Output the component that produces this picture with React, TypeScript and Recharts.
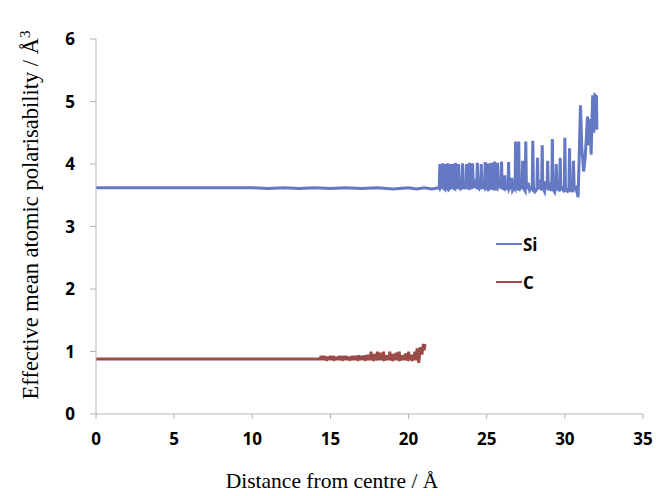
import { LineChart, Line, XAxis, YAxis } from "recharts";

// Si: [distance from centre (Å), effective polarisability (Å^3)]
const siPoints: [number, number][] = [
  [0, 3.62], [2, 3.62], [4, 3.62], [6, 3.62], [8, 3.62], [10, 3.62], [11, 3.61], [12, 3.62], [13, 3.61],
  [14, 3.62], [15, 3.61], [16, 3.62], [17, 3.61], [18, 3.62], [19, 3.6], [20, 3.62], [20.5, 3.6], [21, 3.62],
  [21.5, 3.6], [21.9, 3.62],
  [21.96, 3.61], [22.0, 4.0], [22.04, 3.62], [22.1, 3.64], [22.16, 3.6], [22.2, 4.01], [22.24, 3.62], [22.31, 3.6],
  [22.35, 4.0], [22.39, 3.63], [22.46, 3.61], [22.5, 4.01], [22.54, 3.65], [22.6, 3.6], [22.66, 3.62], [22.7, 4.0],
  [22.74, 3.6], [22.81, 3.64], [22.85, 4.0], [22.89, 3.61], [22.96, 3.6], [23.0, 4.02], [23.04, 3.62], [23.1, 3.7],
  [23.16, 3.6], [23.2, 4.0], [23.24, 3.63], [23.32, 3.6], [23.41, 3.62], [23.45, 4.01], [23.49, 3.6], [23.58, 3.66],
  [23.66, 3.6], [23.7, 4.0], [23.74, 3.62], [23.86, 3.61], [23.9, 4.02], [23.94, 3.6], [24.0, 3.65], [24.06, 3.6],
  [24.1, 4.01], [24.14, 3.62], [24.25, 3.75], [24.36, 3.6], [24.4, 4.02], [24.44, 3.63], [24.52, 3.6], [24.61, 3.64],
  [24.65, 4.0], [24.69, 3.6], [24.78, 3.66], [24.86, 3.61], [24.9, 4.03], [24.94, 3.6], [25.06, 3.62], [25.1, 4.01],
  [25.14, 3.6], [25.26, 3.63], [25.3, 4.02], [25.34, 3.61], [25.46, 3.6], [25.5, 4.04], [25.54, 3.62], [25.66, 3.6],
  [25.7, 4.02], [25.74, 3.63], [25.85, 3.7], [25.91, 3.6], [25.95, 4.04], [25.99, 3.62], [26.1, 3.6], [26.15, 3.82],
  [26.2, 3.6], [26.36, 3.62], [26.4, 4.03], [26.44, 3.6], [26.55, 3.65], [26.6, 3.78], [26.66, 3.58], [26.75, 3.62],
  [26.81, 3.6], [26.85, 4.36], [26.89, 3.62], [27.01, 3.6], [27.05, 4.36], [27.09, 3.58], [27.2, 3.66], [27.26, 3.6],
  [27.3, 4.05], [27.34, 3.62], [27.46, 3.57], [27.5, 4.36], [27.54, 3.6], [27.65, 3.7], [27.75, 3.58], [27.85, 3.62],
  [27.91, 3.6], [27.95, 4.37], [27.99, 3.62], [28.1, 3.56], [28.21, 3.6], [28.25, 4.1], [28.29, 3.6], [28.4, 3.68],
  [28.51, 3.58], [28.55, 4.3], [28.59, 3.62], [28.7, 3.56], [28.78, 3.72], [28.86, 3.6], [28.9, 4.05], [28.94, 3.58],
  [29.05, 3.65], [29.16, 3.57], [29.2, 4.4], [29.24, 3.6], [29.35, 3.55], [29.41, 3.62], [29.45, 4.0], [29.49, 3.58],
  [29.58, 3.7], [29.66, 3.56], [29.7, 4.1], [29.74, 3.6], [29.85, 3.62], [29.96, 3.55], [30.0, 4.42], [30.04, 3.6],
  [30.15, 3.57], [30.26, 3.62], [30.3, 4.25], [30.34, 3.58], [30.45, 3.6], [30.51, 3.55], [30.55, 4.05], [30.6, 3.6],
  [30.7, 3.62], [30.85, 3.47], [31.0, 4.94], [31.08, 4.28], [31.2, 3.88], [31.3, 4.1], [31.45, 4.76], [31.52, 4.3],
  [31.6, 4.72], [31.68, 4.15], [31.78, 5.1], [31.85, 4.5], [31.93, 5.1], [32.02, 5.08], [32.05, 4.55],
];

// C: [distance from centre (Å), effective polarisability (Å^3)]
const cPoints: [number, number][] = [
  [0, 0.88], [4, 0.88], [8, 0.88], [12, 0.88], [14.3, 0.88],
  [14.36, 0.88], [14.4, 0.93], [14.44, 0.88], [14.56, 0.88], [14.6, 0.93], [14.64, 0.88], [14.76, 0.87], [14.8, 0.92],
  [14.84, 0.88], [14.96, 0.88], [15.0, 0.93], [15.04, 0.88], [15.16, 0.88], [15.2, 0.93], [15.24, 0.87], [15.36, 0.88],
  [15.4, 0.92], [15.44, 0.88], [15.56, 0.88], [15.6, 0.93], [15.64, 0.88], [15.76, 0.87], [15.8, 0.93], [15.84, 0.88],
  [15.96, 0.88], [16.0, 0.93], [16.04, 0.88], [16.16, 0.88], [16.2, 0.92], [16.24, 0.87], [16.36, 0.88], [16.4, 0.93],
  [16.44, 0.88], [16.56, 0.88], [16.6, 0.93], [16.64, 0.88], [16.76, 0.87], [16.8, 0.94], [16.84, 0.88], [16.96, 0.88],
  [17.0, 0.93], [17.04, 0.88], [17.16, 0.88], [17.2, 0.94], [17.24, 0.87], [17.36, 0.88], [17.4, 0.95], [17.44, 0.88],
  [17.56, 0.88], [17.6, 1.0], [17.64, 0.88], [17.76, 0.87], [17.8, 0.96], [17.84, 0.88], [17.96, 0.88], [18.0, 1.0],
  [18.04, 0.88], [18.16, 0.89], [18.2, 0.98], [18.24, 0.88], [18.36, 0.88], [18.4, 1.0], [18.44, 0.87], [18.56, 0.88],
  [18.6, 0.94], [18.64, 0.88], [18.76, 0.88], [18.8, 1.0], [18.84, 0.88], [18.96, 0.87], [19.0, 0.96], [19.04, 0.88],
  [19.16, 0.88], [19.2, 0.98], [19.24, 0.88], [19.36, 0.88], [19.4, 1.0], [19.44, 0.87], [19.56, 0.88], [19.6, 0.94],
  [19.64, 0.88], [19.76, 0.88], [19.8, 0.97], [19.84, 0.88], [19.96, 0.87], [20.0, 1.0], [20.04, 0.88], [20.16, 0.88],
  [20.2, 0.95], [20.24, 0.87], [20.36, 0.88], [20.4, 1.0], [20.46, 0.86], [20.55, 1.05], [20.65, 0.82], [20.75, 1.07],
  [20.85, 0.95], [20.95, 1.12], [21.0, 1.02], [21.05, 1.12],
];

const xTicks = [0, 5, 10, 15, 20, 25, 30, 35];
const yTicks = [0, 1, 2, 3, 4, 5, 6];

const SI_COLOR = "#6478c3";
const C_COLOR = "#9b4b48";
const AXIS = "#b3b3b3";
const TICK = { fill: "#000", fontSize: 17, fontWeight: 700, fontFamily: "'Open Sans', sans-serif" };
const SERIF = "'Liberation Serif', 'Times New Roman', serif";

const siRows = siPoints.map(([x, y]) => ({ x, y }));
const cRows = cPoints.map(([x, y]) => ({ x, y }));

function LegendBox() {
  const item = (name: string, color: string) => (
    <div style={{ display: "flex", alignItems: "center", height: 38 }}>
      <div style={{ width: 26, height: 2.5, background: color }} />
      <span style={{ fontSize: 17, fontWeight: 700, fontFamily: TICK.fontFamily, color: "#000", marginLeft: 1 }}>{name}</span>
    </div>
  );
  return (
    <div style={{ position: "absolute", left: 496, top: 225 }}>
      {item("Si", SI_COLOR)}
      {item("C", C_COLOR)}
    </div>
  );
}

export default function App() {
  return (
    <div style={{ position: "absolute", left: 0, top: 0, width: 656, height: 496, background: "#fff" }}>
      <LineChart width={656} height={496} margin={{ top: 39, right: 13, bottom: 42, left: 40 }}>
        <XAxis
          type="number"
          dataKey="x"
          domain={[0, 35]}
          ticks={xTicks}
          height={40}
          stroke={AXIS}
          tickSize={5}
          tickMargin={14}
          tick={TICK}
          interval={0}
          allowDuplicatedCategory={false}
        />
        <YAxis
          type="number"
          dataKey="y"
          domain={[0, 6]}
          ticks={yTicks}
          width={56}
          stroke={AXIS}
          tickSize={6}
          tickMargin={15}
          tick={TICK}
          interval={0}
        />
        <Line data={siRows} dataKey="y" name="Si" type="linear" stroke={SI_COLOR} strokeWidth={3} dot={false} isAnimationActive={false} />
        <Line data={cRows} dataKey="y" name="C" type="linear" stroke={C_COLOR} strokeWidth={3} dot={false} isAnimationActive={false} />
      </LineChart>
      <LegendBox />
      <div
        style={{
          position: "absolute",
          left: 31 - 220,
          top: 215 - 13,
          width: 440,
          height: 26,
          lineHeight: "26px",
          textAlign: "center",
          transform: "rotate(-90deg)",
          fontFamily: SERIF,
          fontSize: 22.5,
          color: "#000",
          whiteSpace: "nowrap",
        }}
      >
        Effective mean atomic polarisability / Å<sup style={{ fontSize: 15, verticalAlign: "top", lineHeight: "14px" }}>3</sup>
      </div>
      <div
        style={{
          position: "absolute",
          left: 332 - 150,
          top: 469,
          width: 300,
          textAlign: "center",
          fontFamily: SERIF,
          fontSize: 21.5,
          color: "#000",
          whiteSpace: "nowrap",
        }}
      >
        Distance from centre / Å
      </div>
    </div>
  );
}
